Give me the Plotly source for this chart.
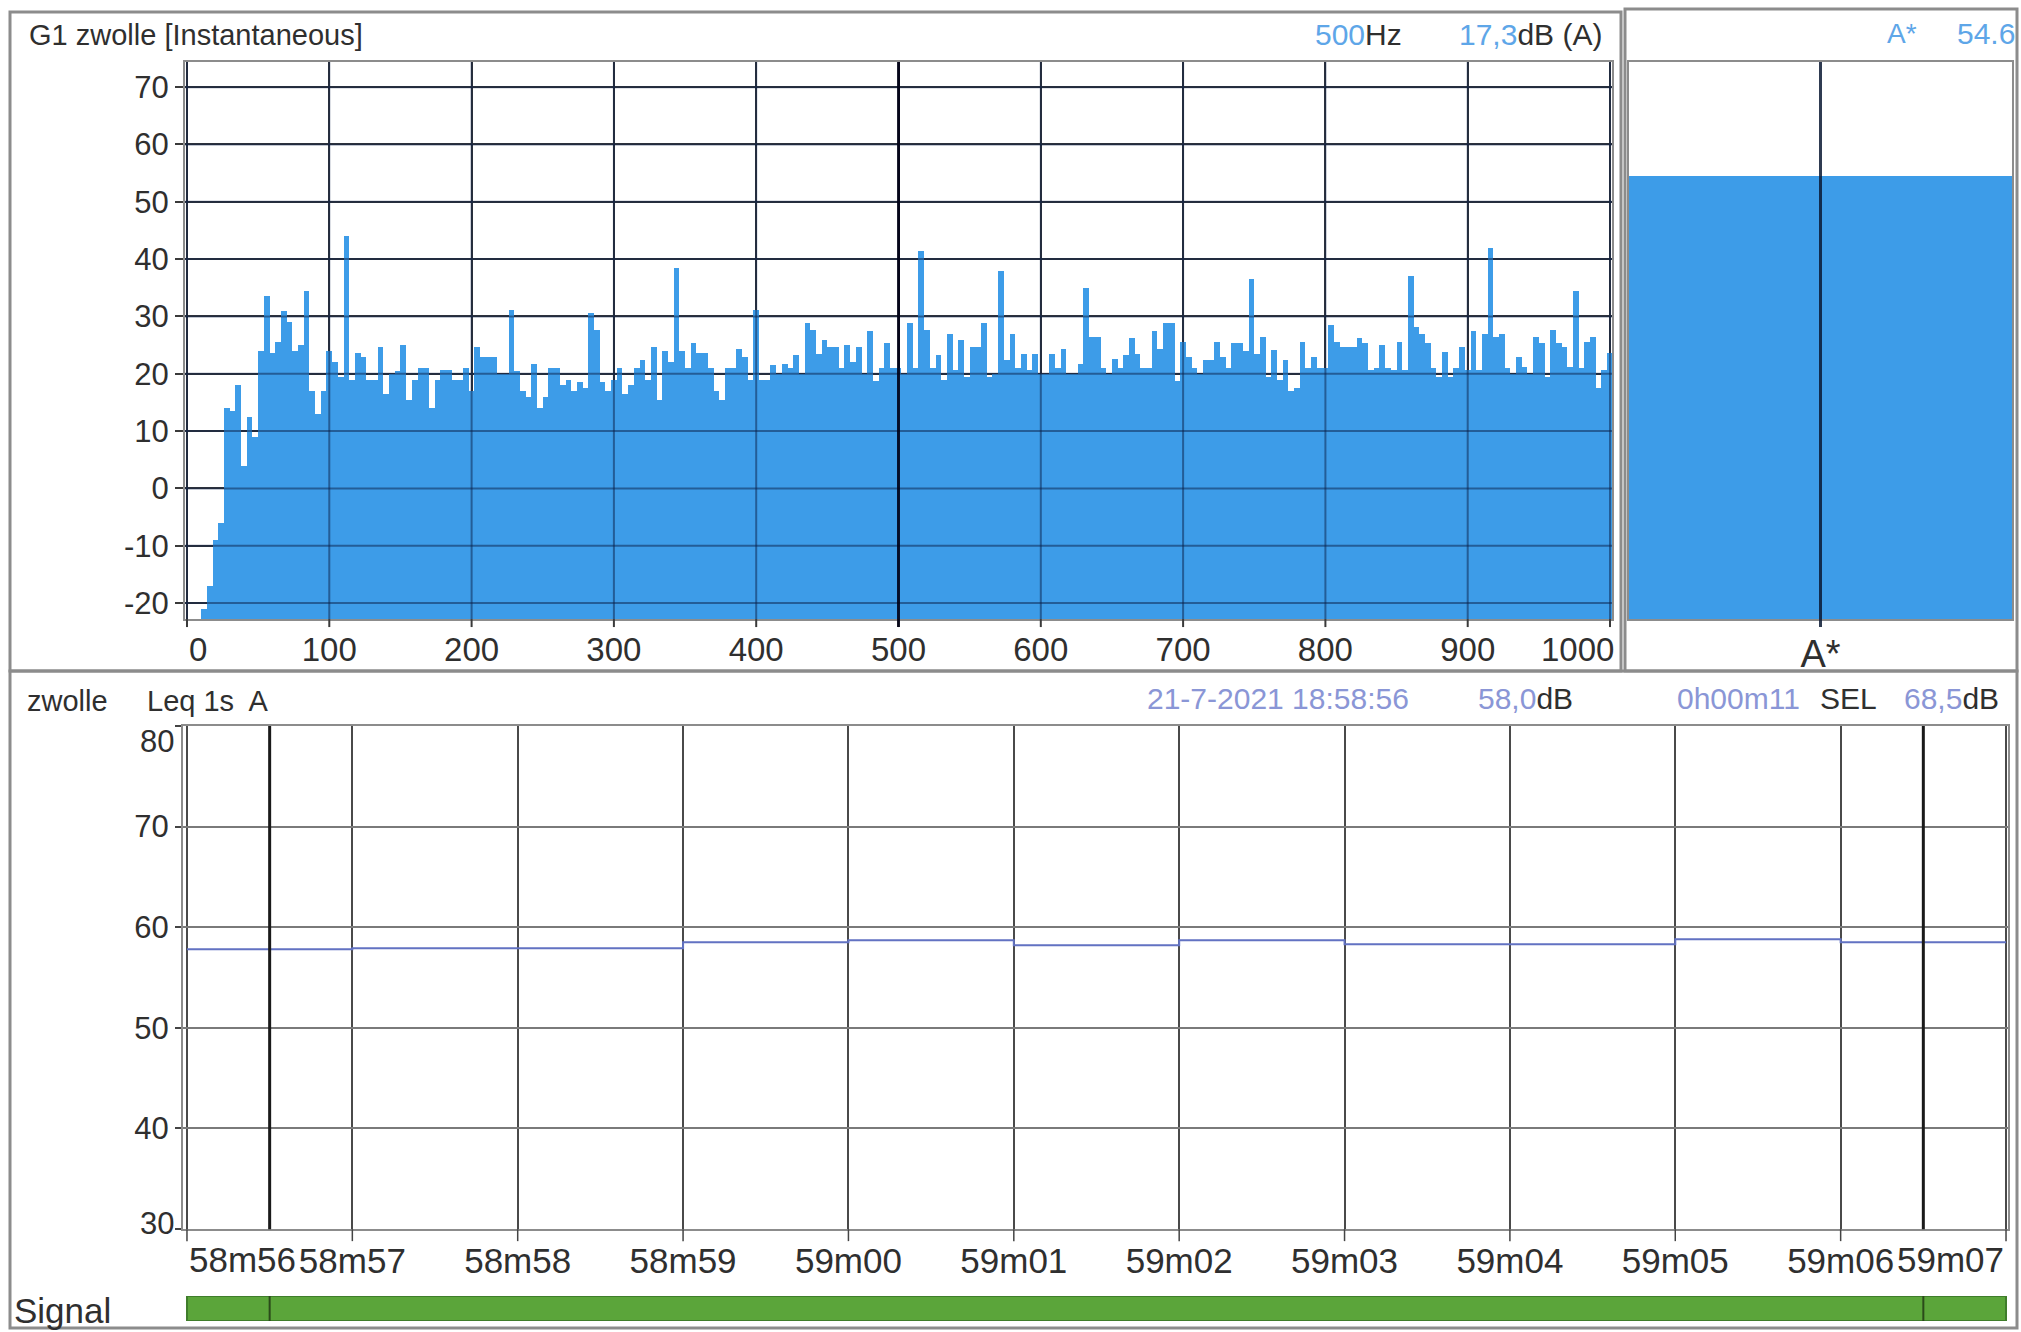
import plotly.graph_objects as go

W, H = 2021, 1332
FONT = "Liberation Sans, Arial, Helvetica, sans-serif"
DARK = "#2f2f2f"
SKY = "#5ea6e8"
LAV = "#8a96d6"
BAR_BLUE = "#3d9ce8"
FRAME = "#8c8c8c"

# ---------------- data ----------------
# narrow-band spectrum (G1 zwolle, instantaneous), one value per 4 Hz line
spectrum_freq_hz = list(range(0, 1001, 4))
spectrum_level_db = [
    -22.8, -22.8, -22.8, -21, -17, -9, -6, 14, 13.5, 18,
    4, 12.4, 9, 24, 33.5, 23.6, 25.5, 31, 29, 24,
    25, 34.4, 17, 13, 17, 24, 22, 19.5, 44.1, 19,
    23.6, 23, 19, 19, 24.7, 16.5, 20, 20.5, 25, 15.5,
    19, 21, 21, 14, 19, 20.6, 20.6, 19, 19, 21,
    17, 24.7, 23, 23, 23, 20, 20, 31.2, 20.5, 17,
    16, 21.8, 14, 16, 21, 21, 18, 19, 17, 18.5,
    17.5, 30.6, 27.7, 18.5, 17, 19, 21, 16.5, 18, 21,
    22.4, 19, 24.7, 15.4, 24, 22, 38.5, 24, 21, 25.3,
    23.6, 23.6, 21, 17, 15.5, 21, 21, 24.4, 23, 19,
    31.2, 19, 19, 21.5, 20, 21.8, 21, 23.2, 20, 28.8,
    27.6, 23.5, 25.9, 24.7, 24.7, 21, 25, 22, 24.7, 20,
    27.4, 18.8, 21, 25.3, 21, 21, 20, 28.8, 21, 41.5,
    27.6, 21, 23.2, 19, 27, 20.6, 25.9, 19.5, 24.7, 24.7,
    28.8, 19.5, 20, 37.9, 22.4, 27, 21, 23.5, 20.6, 23.5,
    20, 20, 23.5, 21, 24.4, 20, 20, 21.8, 35, 26.5,
    26.5, 21, 20, 22.6, 21, 23.2, 26.2, 23.5, 21, 21,
    27.4, 24.4, 28.8, 28.8, 18.8, 25.6, 23, 21, 20, 22.4,
    22.4, 25.6, 23, 21, 25.3, 25.3, 24, 36.5, 23.5, 26.5,
    19.5, 24.1, 19, 22.4, 17, 17.5, 25.6, 21, 23, 21,
    21, 28.5, 25.6, 24.7, 24.7, 24.7, 26.2, 25.3, 20.6, 21,
    25, 21, 20.6, 25.6, 20.6, 37.1, 28.2, 27, 25.3, 21,
    19.5, 23.8, 19.5, 21, 24.7, 20.6, 27.4, 20.6, 27, 42,
    26.5, 27, 21, 20, 23, 21.2, 20, 26.5, 25.3, 19.5,
    27.6, 25.3, 24.7, 21.2, 34.4, 21, 25.6, 26.5, 17.6, 20.6,
    23.6,
]
spectrum_xticks = [0, 100, 200, 300, 400, 500, 600, 700, 800, 900, 1000]
spectrum_yticks = [-20, -10, 0, 10, 20, 30, 40, 50, 60, 70]
spectrum_floor_db = -22.8
spectrum_top_db = 74.4
spectrum_xrange = [-1.4, 1001.4]
cursor_freq_hz = [500]
title_top = "G1 zwolle [Instantaneous]"
cursor_freq_text = "500"
cursor_level_text = "17,3"

# overall A-weighted level
overall_labels = ["A*"]
overall_levels_db = [54.6]
overall_text = "54.6"

# Leq 1 s time history (seconds after 18:58:00)
leq_start_s = [56, 57, 58, 59, 60, 61, 62, 63, 64, 65, 66]
leq_db = [57.8, 57.9, 57.9, 58.5, 58.7, 58.2, 58.7, 58.3, 58.3, 58.8, 58.5]
leq_end_s = 67
time_tick_s = [56, 57, 58, 59, 60, 61, 62, 63, 64, 65, 66, 67]
time_tick_text = ["58m56", "58m57", "58m58", "58m59", "59m00", "59m01",
                  "59m02", "59m03", "59m04", "59m05", "59m06", "59m07"]
time_xrange = [55.976, 67.012]
leq_yticks = [30, 40, 50, 60, 70, 80]
time_cursor_s = [56.5, 66.5]
cursor_time_text = "21-7-2021 18:58:56"
cursor_leq_text = "58,0"
duration_text = "0h00m11"
sel_text = "68,5"

signal_rows = ["Signal"]
signal_from_s = [56]
signal_to_s = [67]


# ---------------- helpers ----------------
def fx(p):
    return p / W


def fy(p):
    return 1 - p / H


TOP_Y0, TOP_Y1 = 62, 620
BOT_Y0, BOT_Y1 = 727, 1231
dom_x1 = [fx(185), fx(1612)]
dom_y1 = [fy(TOP_Y1), fy(TOP_Y0)]
dom_x2 = [fx(1629), fx(2012)]
dom_x3 = [fx(183), fx(2008)]
dom_y3 = [fy(BOT_Y1), fy(BOT_Y0)]
dom_y4 = [fy(1323), fy(1298)]
top_tick_frac = 8 / (TOP_Y1 - TOP_Y0)      # 8 px tick marks below top plots
bot_tick_frac = 12 / (BOT_Y1 - BOT_Y0)     # 12 px tick marks below time plot

fig = go.Figure()

fig.add_trace(go.Bar(
    x=spectrum_freq_hz,
    y=[v - spectrum_floor_db for v in spectrum_level_db],
    base=spectrum_floor_db,
    marker=dict(color=BAR_BLUE, line=dict(width=0)),
    xaxis="x", yaxis="y", hoverinfo="skip", showlegend=False))

fig.add_trace(go.Bar(
    x=overall_labels,
    y=[v - spectrum_floor_db for v in overall_levels_db],
    base=spectrum_floor_db,
    marker=dict(color=BAR_BLUE, line=dict(width=0)),
    xaxis="x2", yaxis="y2", hoverinfo="skip", showlegend=False))

fig.add_trace(go.Scatter(
    x=leq_start_s + [leq_end_s],
    y=leq_db + [leq_db[-1]],
    mode="lines",
    line=dict(color="#6272c2", width=2, shape="hv"),
    xaxis="x3", yaxis="y3", hoverinfo="skip", showlegend=False))

fig.add_trace(go.Bar(
    y=signal_rows,
    x=[t - f for f, t in zip(signal_from_s, signal_to_s)],
    base=signal_from_s,
    orientation="h",
    marker=dict(color="#5ba53a", line=dict(color="#3f7d2b", width=2)),
    xaxis="x4", yaxis="y4", hoverinfo="skip", showlegend=False))


def tick_font(s):
    return dict(size=s, color=DARK, family=FONT)


axis_common = dict(showline=True, linecolor=FRAME, linewidth=2, mirror=True,
                   zeroline=False, fixedrange=True)

layout_axes = dict(
    xaxis=dict(domain=dom_x1, anchor="y", range=spectrum_xrange,
               tickmode="array", tickvals=spectrum_xticks,
               ticktext=[""] + [str(v) for v in spectrum_xticks[1:-1]] + [""],
               ticks="",
               showgrid=True, gridcolor="#3a3a3a", gridwidth=2,
               tickfont=tick_font(33), **axis_common),
    yaxis=dict(domain=dom_y1, anchor="x", range=[spectrum_floor_db, spectrum_top_db],
               tickmode="array", tickvals=spectrum_yticks,
               ticktext=[str(v) for v in spectrum_yticks],
               ticks="outside", ticklen=8, tickwidth=2, tickcolor="#3a3a3a",
               showgrid=True, gridcolor="#3a3a3a", gridwidth=2,
               tickfont=tick_font(31), **axis_common),
    xaxis2=dict(domain=dom_x2, anchor="y2", type="category",
                ticks="", showgrid=False, tickfont=tick_font(38), **axis_common),
    yaxis2=dict(domain=dom_y1, anchor="x2", range=[spectrum_floor_db, spectrum_top_db],
                showticklabels=False, ticks="", showgrid=False, **axis_common),
    xaxis3=dict(domain=dom_x3, anchor="y3", range=time_xrange,
                tickmode="array", tickvals=time_tick_s,
                ticktext=[""] + time_tick_text[1:-1] + [""],
                ticks="",
                showgrid=True, gridcolor="#4a4a4a", gridwidth=1.5,
                tickfont=tick_font(35), **axis_common),
    yaxis3=dict(domain=dom_y3, anchor="x3", range=[leq_yticks[0], leq_yticks[-1]],
                tickmode="array", tickvals=leq_yticks,
                ticktext=[""] + [str(v) for v in leq_yticks[1:-1]] + [""],
                ticks="outside", ticklen=6, tickwidth=1.5, tickcolor="#444444",
                showgrid=True, gridcolor="#7a7a7a", gridwidth=2,
                tickfont=tick_font(31), **axis_common),
    xaxis4=dict(domain=dom_x3, anchor="y4", range=time_xrange, visible=False,
                fixedrange=True),
    yaxis4=dict(domain=dom_y4, anchor="x4", type="category", range=[-0.5, 0.5],
                visible=False, fixedrange=True),
)

shapes = []
# panel frames
for x0, x1, y0, y1 in [(10, 1621, 12, 672), (1625, 2017, 9, 672), (10, 2017, 672, 1330)]:
    shapes.append(dict(type="rect", xref="paper", yref="paper",
                       x0=fx(x0), x1=fx(x1), y0=fy(y1), y1=fy(y0),
                       line=dict(color=FRAME, width=3), layer="below"))
# grid seen through the spectrum bars (also forms the tick marks below the plot)
grid_over = "rgba(10,30,70,0.5)"
for v in spectrum_xticks:
    shapes.append(dict(type="line", xref="x", yref="y domain", x0=v, x1=v,
                       y0=-top_tick_frac, y1=0,
                       line=dict(color="#3a3a3a", width=2), layer="above"))
    shapes.append(dict(type="line", xref="x", yref="y domain", x0=v, x1=v, y0=0, y1=1,
                       line=dict(color=grid_over, width=2), layer="above"))
for v in spectrum_yticks:
    shapes.append(dict(type="line", xref="x domain", yref="y", x0=0, x1=1, y0=v, y1=v,
                       line=dict(color=grid_over, width=2), layer="above"))
for c in cursor_freq_hz:
    shapes.append(dict(type="line", xref="x", yref="y domain", x0=c, x1=c,
                       y0=-top_tick_frac, y1=1,
                       line=dict(color="rgba(0,0,20,0.85)", width=3), layer="above"))
# centre line of the overall bar
shapes.append(dict(type="line", xref="x2", yref="y2 domain", x0=0, x1=0,
                   y0=-top_tick_frac, y1=1,
                   line=dict(color="rgba(10,25,50,0.85)", width=3), layer="above"))
# time-axis tick marks
for t in time_tick_s:
    shapes.append(dict(type="line", xref="x3", yref="y3 domain", x0=t, x1=t,
                       y0=-bot_tick_frac, y1=0,
                       line=dict(color="#444444", width=1.5), layer="above"))
# time cursors
for c in time_cursor_s:
    shapes.append(dict(type="line", xref="x3", yref="y3 domain", x0=c, x1=c, y0=0, y1=1,
                       line=dict(color="#1a1a1a", width=3), layer="above"))
    shapes.append(dict(type="line", xref="x4", yref="y4 domain", x0=c, x1=c, y0=0, y1=1,
                       line=dict(color="#2a4a1a", width=2), layer="above"))


def ann(text, x, y, xanchor="left", size=30, color=DARK, xref="paper", yref="paper",
        yanchor="middle", xshift=0, yshift=0):
    return dict(text=text, x=x, y=y, xref=xref, yref=yref, xanchor=xanchor,
                yanchor=yanchor, showarrow=False, xshift=xshift, yshift=yshift,
                font=dict(size=size, color=color, family=FONT))


def sp(t, c):
    return "<span style='color:%s'>%s</span>" % (c, t)


annotations = [
    ann(title_top, fx(27), fy(35), size=29),
    ann(sp(cursor_freq_text, SKY) + "Hz", fx(1404), fy(35), "right", 30),
    ann(sp(cursor_level_text, SKY) + "dB (A)", fx(1604), fy(35), "right", 30),
    ann(overall_labels[0], fx(1885), fy(34), "left", 28, SKY),
    ann(overall_text, fx(1955), fy(34), "left", 30, SKY),
    ann("zwolle", fx(25), fy(702), size=29),
    ann("Leq 1s\u00a0 A", fx(145), fy(702), size=29),
    ann(cursor_time_text, fx(1411), fy(700), "right", 30, LAV),
    ann(sp(cursor_leq_text, LAV) + "dB", fx(1575), fy(700), "right", 30),
    ann(duration_text, fx(1802), fy(700), "right", 30, LAV),
    ann("SEL", fx(1818), fy(700), "left", 30),
    ann(sp(sel_text, LAV) + "dB", fx(2001), fy(700), "right", 30),
    ann(signal_rows[0], fx(12), fy(1312), "left", 35),
    # edge tick labels, pushed inside like the original
    ann(str(spectrum_xticks[0]), spectrum_xticks[0], fy(650), "left", 33, xref="x"),
    ann(str(spectrum_xticks[-1]), spectrum_xticks[-1], fy(650), "right", 33, xref="x",
        xshift=6),
    ann(time_tick_text[0], time_tick_s[0], fy(1261), "left", 35, xref="x3"),
    ann(time_tick_text[-1], time_tick_s[-1], fy(1261), "right", 35, xref="x3"),
    ann(str(leq_yticks[-1]), fx(176), leq_yticks[-1], "right", 31, yref="y3",
        yanchor="top", yshift=4),
    ann(str(leq_yticks[0]), fx(176), leq_yticks[0], "right", 31, yref="y3",
        yanchor="middle", yshift=6),
]

fig.update_layout(
    width=W, height=H, margin=dict(l=0, r=0, t=0, b=0, pad=0),
    paper_bgcolor="white", plot_bgcolor="white",
    showlegend=False, bargap=0, barmode="overlay",
    font=dict(family=FONT, color=DARK),
    shapes=shapes, annotations=annotations,
    **layout_axes,
)

fig.write_html("out.html", config={"displayModeBar": False},
               post_script="document.body.style.margin='0px';"
                           "document.body.style.overflow='hidden';")
